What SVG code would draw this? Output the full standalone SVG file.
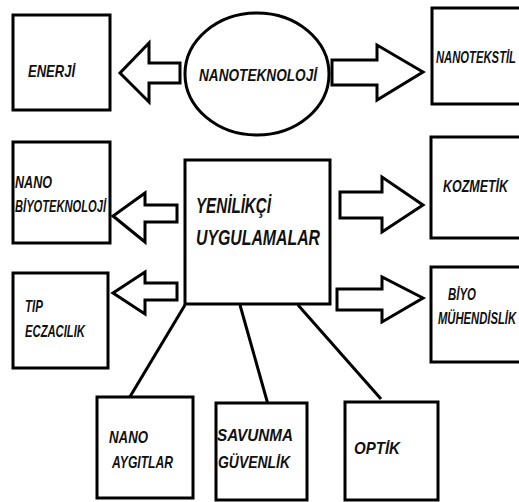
<svg xmlns="http://www.w3.org/2000/svg" width="519" height="502" viewBox="0 0 519 502">
<style>
.b{fill:#fff;stroke:#000;stroke-width:3}
.a{fill:#fff;stroke:#000;stroke-width:3;stroke-linejoin:miter}
.c{stroke:#000;stroke-width:3;fill:none}
text{font-family:"Liberation Sans",Arial,sans-serif;font-weight:bold;font-style:italic;font-size:17px;fill:#111}
.big{font-size:22px}
</style>
<rect width="519" height="502" fill="#fff"/>
<g id="connectors">
<polygon class="a" points="180,63 149,63 149,43 120,73 149,102 149,83 180,83"/>
<polygon class="a" points="332,60 377,60 377,45 423,72 377,100 377,85 332,85"/>
<polygon class="a" points="177,205 145,205 145,193 113,216 145,242 145,222 177,222"/>
<polygon class="a" points="177,283 145,283 145,272 113,293 145,314 145,300 177,300"/>
<polygon class="a" points="340,192 382,192 382,177 423,205 382,232 382,218 340,218"/>
<polygon class="a" points="337,289 382,289 382,277 423,298 382,322 382,310 337,310"/>
<line class="c" x1="185" y1="305" x2="125" y2="405"/>
<line class="c" x1="240" y1="305" x2="269" y2="408"/>
<line class="c" x1="298" y1="305" x2="381" y2="399"/>
</g>
<g id="nanoteknoloji">
<ellipse class="b" cx="257" cy="74" rx="72" ry="61"/>
<text x="199" y="81" textLength="118" lengthAdjust="spacingAndGlyphs">NANOTEKNOLOJİ</text>
</g>
<g id="enerji">
<rect class="b" x="13" y="15" width="97" height="95"/>
<text x="28" y="77" textLength="47" lengthAdjust="spacingAndGlyphs">ENERJİ</text>
</g>
<g id="nanotekstil">
<path class="b" d="M519,8 H432 V104 H519"/>
<text x="436" y="63" textLength="80" lengthAdjust="spacingAndGlyphs">NANOTEKSTİL</text>
</g>
<g id="nanobiyoteknoloji">
<rect class="b" x="13" y="142" width="97" height="101"/>
<text x="15" y="188" textLength="37" lengthAdjust="spacingAndGlyphs">NANO</text>
<text x="15" y="212" textLength="91" lengthAdjust="spacingAndGlyphs">BİYOTEKNOLOJİ</text>
</g>
<g id="yenilikci">
<rect class="b" x="185" y="160" width="145" height="144"/>
<text class="big" x="196" y="213" textLength="75" lengthAdjust="spacingAndGlyphs">YENİLİKÇİ</text>
<text class="big" x="196" y="245" textLength="124" lengthAdjust="spacingAndGlyphs">UYGULAMALAR</text>
</g>
<g id="tip">
<rect class="b" x="13" y="273" width="95" height="95"/>
<text x="25" y="312" textLength="18" lengthAdjust="spacingAndGlyphs">TIP</text>
<text x="25" y="337" textLength="60" lengthAdjust="spacingAndGlyphs">ECZACILIK</text>
</g>
<g id="kozmetik">
<path class="b" d="M519,137 H431 V238 H519"/>
<text x="443" y="192" textLength="65" lengthAdjust="spacingAndGlyphs">KOZMETİK</text>
</g>
<g id="biyomuhendislik">
<path class="b" d="M519,267 H431 V362 H519"/>
<text x="448" y="300" textLength="28" lengthAdjust="spacingAndGlyphs">BİYO</text>
<text x="438" y="324" textLength="78" lengthAdjust="spacingAndGlyphs">MÜHENDİSLİK</text>
</g>
<g id="nanoaygitlar">
<rect class="b" x="97" y="397" width="96" height="101"/>
<text x="109" y="443" textLength="39" lengthAdjust="spacingAndGlyphs">NANO</text>
<text x="112" y="468" textLength="61" lengthAdjust="spacingAndGlyphs">AYGITLAR</text>
</g>
<g id="savunma">
<rect class="b" x="216" y="403" width="91" height="97"/>
<text x="217" y="441" textLength="76" lengthAdjust="spacingAndGlyphs">SAVUNMA</text>
<text x="218" y="468" textLength="72" lengthAdjust="spacingAndGlyphs">GÜVENLİK</text>
</g>
<g id="optik">
<rect class="b" x="345" y="402" width="93" height="98"/>
<text x="354" y="454" textLength="46" lengthAdjust="spacingAndGlyphs">OPTİK</text>
</g>
</svg>
